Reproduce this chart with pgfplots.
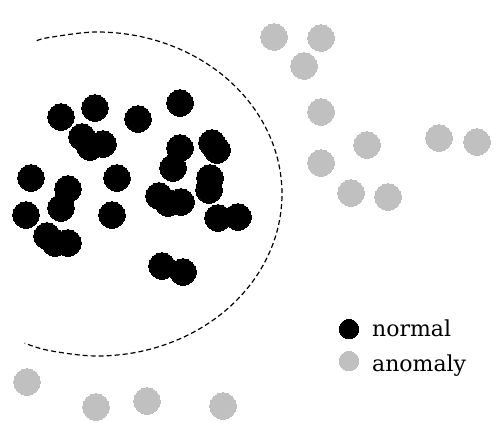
\documentclass[border=0pt]{standalone}
\usepackage{pgfplots}
\pgfplotsset{compat=1.18}
\usepackage{fontspec}
\setmainfont{DejaVu Serif}
\definecolor{anom}{RGB}{192,192,192}

\begin{document}
\begin{tikzpicture}
\begin{axis}[width=498pt,height=434pt,scale only axis,
  xmin=0,xmax=498,ymin=0,ymax=434,y dir=reverse,
  hide axis,clip=false]
% keep the full frame as bounding box
\path (rel axis cs:0,0) rectangle (rel axis cs:1,1);
% decision boundary (dashed arc)
\addplot[black,line width=1.2pt,dash pattern=on 5pt off 3pt,smooth,tension=0.6] coordinates {
(36.8,40.8)(49.1,37.5)(97,32)(144.9,37.5)(189.5,53.7)(227.8,79.4)(257.2,113)(275.7,152.1)
(282,194)(275.7,235.9)(257.2,275)(227.8,308.6)(189.5,334.3)(144.9,350.5)(97,356)(49.1,350.5)(24.7,343.1)};
% anomalies
\addplot[only marks,mark=*,mark size=13.2,mark options={fill=anom,draw=anom,line width=0pt}] coordinates {
(274,37)(321,38)(304,66)(321,112)(367,145)(439,138)(477,142)(321,163)(351,193)(388,197)
(27,382)(96,407)(147,401)(223,406)};
% normal points
\addplot[only marks,mark=*,mark size=13.2,mark options={fill=black,draw=black,line width=0pt}] coordinates {
(61,117)(95,108)(138,119)(180,103)(82,137)(90,147)(103,144)(180,148)(173,168)(212,143)
(217,150)(31,178)(68,189)(61,208)(117,178)(210,178)(209,190)(159,196)(168,203)(181,202)
(26,215)(112,215)(218,218)(238,217)(47,236)(55,243)(68,243)(162,266)(183,272)};
% legend
\addplot[only marks,mark=*,mark size=9.7,mark options={fill=black,draw=black,line width=0pt}] coordinates {(349,329)};
\addplot[only marks,mark=*,mark size=9.7,mark options={fill=anom,draw=anom,line width=0pt}] coordinates {(349,361)};
\node[anchor=base west,inner sep=0pt,font=\fontsize{22}{26}\selectfont] at (axis cs:372,336.7) {normal};
\node[anchor=base west,inner sep=0pt,font=\fontsize{22}{26}\selectfont] at (axis cs:372,371.7) {anomaly};
\end{axis}
\end{tikzpicture}
\end{document}
